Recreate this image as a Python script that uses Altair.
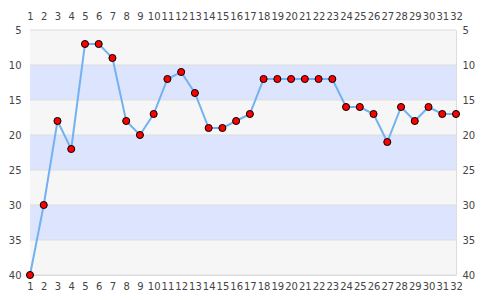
import altair as alt
import pandas as pd

# Series: position per round
rounds = list(range(1, 33))
positions = [40, 30, 18, 22, 7, 7, 9, 18, 20, 17, 12, 11, 14, 19, 19, 18,
             17, 12, 12, 12, 12, 12, 12, 16, 16, 17, 21, 16, 18, 16, 17, 17]

# Horizontal background bands
band_from = [5, 10, 15, 20, 25, 30, 35]
band_to = [10, 15, 20, 25, 30, 35, 40]
band_kind = ["a", "b", "a", "b", "a", "b", "a"]

y_ticks = [5, 10, 15, 20, 25, 30, 35, 40]

df = pd.DataFrame({"round": rounds, "pos": positions})
bands = pd.DataFrame({"y0": band_from, "y1": band_to, "kind": band_kind})

FONT = "DejaVu Sans"
LABEL = "#444444"
FS = 10

xscale = alt.Scale(domain=[1, 32], nice=False, zero=False)
yscale = alt.Scale(domain=[5, 40], reverse=True, nice=False, zero=False)

band_layer = alt.Chart(bands).mark_rect().encode(
    x=alt.value(0),
    x2=alt.value(426),
    y=alt.Y("y0:Q", scale=yscale, axis=None),
    y2="y1:Q",
    color=alt.Color("kind:N",
                    scale=alt.Scale(domain=["a", "b"], range=["#f6f6f6", "#dde4fd"]),
                    legend=None),
)

grid_layer = alt.Chart(pd.DataFrame({"v": y_ticks})).mark_rule(
    color="#dddddd", strokeWidth=1
).encode(
    y=alt.Y("v:Q", scale=yscale,
            axis=alt.Axis(values=y_ticks, orient="left", title=None, ticks=False,
                          domain=False, grid=False, labelPadding=9,
                          labelFont=FONT, labelFontSize=FS, labelColor=LABEL)),
)

right_axis = alt.Chart(pd.DataFrame({"v": y_ticks})).mark_rule(opacity=0).encode(
    y=alt.Y("v:Q", scale=yscale,
            axis=alt.Axis(values=y_ticks, orient="right", title=None, ticks=False,
                          domain=False, grid=False, labelPadding=6,
                          labelFont=FONT, labelFontSize=FS, labelColor=LABEL)),
)

xaxis_kw = dict(values=rounds, title=None, ticks=False, domain=False, grid=False,
                labelAngle=0, labelFont=FONT, labelFontSize=FS, labelColor=LABEL,
                labelOverlap=False, labelFlush=False, labelBound=False)

line_layer = alt.Chart(df).mark_line(color="#72b2f2", strokeWidth=2).encode(
    x=alt.X("round:Q", scale=xscale,
            axis=alt.Axis(orient="bottom", labelPadding=6, **xaxis_kw)),
    y=alt.Y("pos:Q", scale=yscale, axis=None),
)

top_axis = alt.Chart(df).mark_point(opacity=0).encode(
    x=alt.X("round:Q", scale=xscale,
            axis=alt.Axis(orient="top", labelPadding=9, **xaxis_kw)),
    y=alt.Y("pos:Q", scale=yscale, axis=None),
)

point_layer = alt.Chart(df).mark_point(
    filled=True, fill="#ff0000", stroke="#000000", strokeWidth=1, size=50, opacity=1
).encode(
    x=alt.X("round:Q", scale=xscale, axis=None),
    y=alt.Y("pos:Q", scale=yscale, axis=None),
)

chart = alt.layer(
    band_layer, grid_layer, right_axis, top_axis, line_layer, point_layer
).resolve_scale(y="shared").resolve_axis(y="independent", x="independent").properties(
    width=426,
    height=245,
    autosize="none",
    padding={"left": 30, "top": 30, "right": 29, "bottom": 25},
    background="#ffffff",
).configure_view(stroke="#dddddd", strokeWidth=1)

chart.save("out.html", embed_options={"renderer": "svg", "actions": False})
